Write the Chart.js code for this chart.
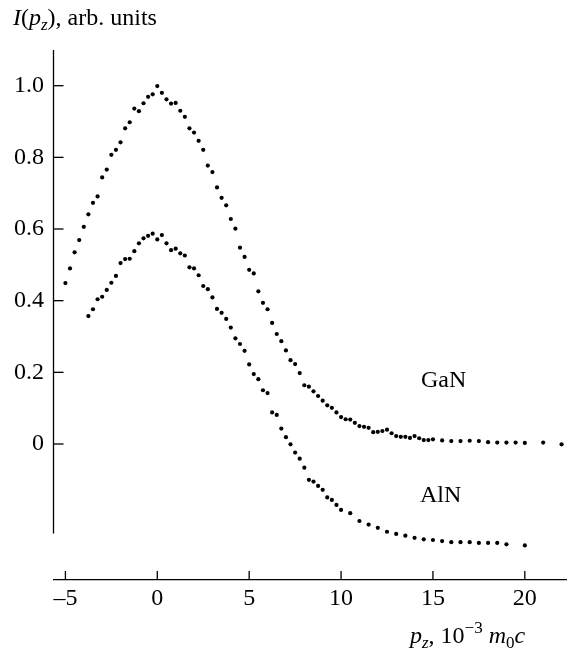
<!DOCTYPE html>
<html>
<head>
<meta charset="utf-8">
<script src="https://cdn.jsdelivr.net/npm/chart.js@4/dist/chart.umd.min.js"></script>
<style>
  html, body { margin: 0; padding: 0; background: #ffffff; }
  #c { display: block; }
</style>
</head>
<body>
<canvas id="c" width="570" height="653"></canvas>
<script>
// ---- data ----
const ganX = [-5, -4.75, -4.5, -4.25, -4, -3.75, -3.5, -3.25, -3, -2.75, -2.5, -2.25, -2, -1.75, -1.5, -1.25, -1, -0.75, -0.5, -0.25,
  0, 0.25, 0.5, 0.75, 1, 1.25, 1.5, 1.75, 2, 2.25, 2.5, 2.75, 3, 3.25, 3.5, 3.75, 4, 4.25, 4.5, 4.75,
  5, 5.25, 5.5, 5.75, 6, 6.25, 6.5, 6.75, 7, 7.25, 7.5, 7.75, 8, 8.25, 8.5, 8.75, 9, 9.25, 9.5, 9.75,
  10, 10.25, 10.5, 10.75, 11, 11.25, 11.5, 11.75, 12, 12.25, 12.5, 12.75, 13, 13.25, 13.5, 13.75, 14, 14.25, 14.5, 14.75,
  15, 15.5, 16, 16.5, 17, 17.5, 18, 18.5, 19, 19.5, 20, 21, 22];
const ganY = [0.449, 0.490, 0.535, 0.569, 0.606, 0.641, 0.673, 0.691, 0.744, 0.766, 0.807, 0.821, 0.842, 0.881, 0.898, 0.936, 0.929, 0.951, 0.969, 0.976,
  0.999, 0.980, 0.962, 0.950, 0.952, 0.930, 0.913, 0.881, 0.869, 0.846, 0.821, 0.777, 0.759, 0.716, 0.687, 0.666, 0.628, 0.601, 0.548, 0.522,
  0.486, 0.476, 0.426, 0.394, 0.376, 0.338, 0.307, 0.287, 0.261, 0.234, 0.223, 0.198, 0.164, 0.160, 0.147, 0.134, 0.121, 0.108, 0.101, 0.088,
  0.075, 0.069, 0.068, 0.059, 0.050, 0.048, 0.045, 0.033, 0.034, 0.036, 0.040, 0.030, 0.022, 0.020, 0.020, 0.017, 0.022, 0.016, 0.011, 0.011,
  0.013, 0.010, 0.008, 0.008, 0.009, 0.008, 0.005, 0.004, 0.004, 0.004, 0.003, 0.004, -0.001];

const alnX = [-3.75, -3.5, -3.25, -3, -2.75, -2.5, -2.25, -2, -1.75, -1.5, -1.25, -1, -0.75, -0.5, -0.25,
  0, 0.25, 0.5, 0.75, 1, 1.25, 1.5, 1.75, 2, 2.25, 2.5, 2.75, 3, 3.25, 3.5, 3.75, 4, 4.25, 4.5, 4.75,
  5, 5.25, 5.5, 5.75, 6, 6.25, 6.5, 6.75, 7, 7.25, 7.5, 7.75, 8, 8.25, 8.5, 8.75, 9, 9.25, 9.5, 9.75,
  10, 10.5, 11, 11.5, 12, 12.5, 13, 13.5, 14, 14.5, 15, 15.5, 16, 16.5, 17, 17.5, 18, 18.5, 19, 20];
const alnY = [0.357, 0.376, 0.404, 0.411, 0.430, 0.450, 0.469, 0.505, 0.516, 0.517, 0.538, 0.560, 0.574, 0.581, 0.587,
  0.571, 0.583, 0.560, 0.541, 0.545, 0.532, 0.526, 0.493, 0.490, 0.471, 0.441, 0.432, 0.409, 0.377, 0.366, 0.349, 0.325, 0.295, 0.279, 0.260,
  0.222, 0.195, 0.181, 0.150, 0.142, 0.088, 0.081, 0.043, 0.019, -0.001, -0.024, -0.041, -0.066, -0.100, -0.105, -0.117, -0.128, -0.149, -0.156, -0.170,
  -0.184, -0.193, -0.215, -0.225, -0.234, -0.245, -0.251, -0.256, -0.262, -0.266, -0.268, -0.271, -0.274, -0.274, -0.274, -0.276, -0.276, -0.276, -0.280, -0.283];

const xTicks = [-5, 0, 5, 10, 15, 20];
const xTickLabels = ['\u20135', '0', '5', '10', '15', '20'];
const yTicks = [0, 0.2, 0.4, 0.6, 0.8, 1.0];
const yTickLabels = ['0', '0.2', '0.4', '0.6', '0.8', '1.0'];
const seriesNames = ['GaN', 'AlN'];

// ---- styling / layout ----
const FONT = "'Liberation Serif', 'Times New Roman', serif";
const X_MIN = -5.621, X_MAX = 22.241;
const Y_MIN = -0.3796, Y_MAX = 1.0996;
const Y_AXIS_END = -0.25;

const axesPlugin = {
  id: 'axesPlugin',
  afterDraw(chart) {
    const ctx = chart.ctx;
    const xs = chart.scales.x, ys = chart.scales.y;
    const ca = chart.chartArea;
    ctx.save();
    ctx.strokeStyle = '#000';
    ctx.lineWidth = 1.3;
    const yl = Math.round(ca.left) - 0.5;
    ctx.beginPath();
    ctx.moveTo(yl, ys.getPixelForValue(Y_MAX));
    ctx.lineTo(yl, ys.getPixelForValue(Y_AXIS_END));
    ctx.stroke();
    yTicks.forEach(v => {
      const p = ys.getPixelForValue(v);
      ctx.beginPath();
      ctx.moveTo(yl, p);
      ctx.lineTo(yl + 10, p);
      ctx.stroke();
    });
    const xb = ca.bottom;
    xTicks.forEach(v => {
      const p = xs.getPixelForValue(v);
      ctx.beginPath();
      ctx.moveTo(p, xb);
      ctx.lineTo(p, xb - 9);
      ctx.stroke();
    });

    ctx.fillStyle = '#000';
    ctx.textBaseline = 'alphabetic';
    ctx.textAlign = 'left';
    function runs(x, y, parts) {
      parts.forEach(p => {
        ctx.font = (p.i ? 'italic ' : '') + p.s + 'px ' + FONT;
        ctx.fillText(p.t, x, y + (p.dy || 0));
        x += ctx.measureText(p.t).width + (p.gap || 0);
      });
    }
    runs(13, 25, [
      {t: 'I', i: true, s: 24},
      {t: '(', s: 24},
      {t: 'p', i: true, s: 24},
      {t: 'z', i: true, s: 17, dy: 5},
      {t: '), arb. units', s: 24}
    ]);
    runs(410, 643, [
      {t: 'p', i: true, s: 24},
      {t: 'z', i: true, s: 17, dy: 5},
      {t: ', 10', s: 24},
      {t: '\u22123', s: 17, dy: -10},
      {t: ' ', s: 24},
      {t: 'm', i: true, s: 24},
      {t: '0', s: 17, dy: 5},
      {t: 'c', i: true, s: 24}
    ]);
    ctx.font = '24px ' + FONT;
    ctx.fillText(seriesNames[0], 421, 387);
    ctx.fillText(seriesNames[1], 420, 502);
    ctx.restore();
  }
};

const data = {
  datasets: [
    { label: seriesNames[0], data: ganX.map((x, i) => ({x, y: ganY[i]})) },
    { label: seriesNames[1], data: alnX.map((x, i) => ({x, y: alnY[i]})) }
  ].map(d => Object.assign(d, {
    showLine: false,
    pointRadius: 2.1,
    pointBackgroundColor: '#000',
    pointBorderWidth: 0,
    borderColor: '#000'
  }))
};

new Chart(document.getElementById('c'), {
  type: 'scatter',
  data,
  options: {
    responsive: false,
    animation: false,
    layout: { padding: { top: 50, left: 0, right: 0, bottom: 0 } },
    plugins: { legend: { display: false }, tooltip: { enabled: false } },
    scales: {
      x: {
        type: 'linear',
        min: X_MIN, max: X_MAX,
        afterBuildTicks: s => { s.ticks = xTicks.map(v => ({value: v})); },
        afterFit: s => { s.height = 73; },
        grid: { display: false, drawTicks: false },
        border: { display: true, color: '#000', width: 1.3 },
        ticks: {
          autoSkip: false, maxRotation: 0, padding: 4, color: '#000',
          font: { family: FONT, size: 24 },
          callback: (v) => { const i = xTicks.indexOf(v); return i >= 0 ? xTickLabels[i] : ''; }
        }
      },
      y: {
        type: 'linear',
        min: Y_MIN, max: Y_MAX,
        afterBuildTicks: s => { s.ticks = yTicks.map(v => ({value: v})); },
        afterFit: s => { s.width = 54; },
        grid: { display: false, drawTicks: false },
        border: { display: false },
        ticks: {
          autoSkip: false, padding: 10, color: '#000',
          font: { family: FONT, size: 24 },
          callback: (v) => { const i = yTicks.indexOf(v); return i >= 0 ? yTickLabels[i] : ''; }
        }
      }
    }
  },
  plugins: [axesPlugin]
});
</script>
</body>
</html>
